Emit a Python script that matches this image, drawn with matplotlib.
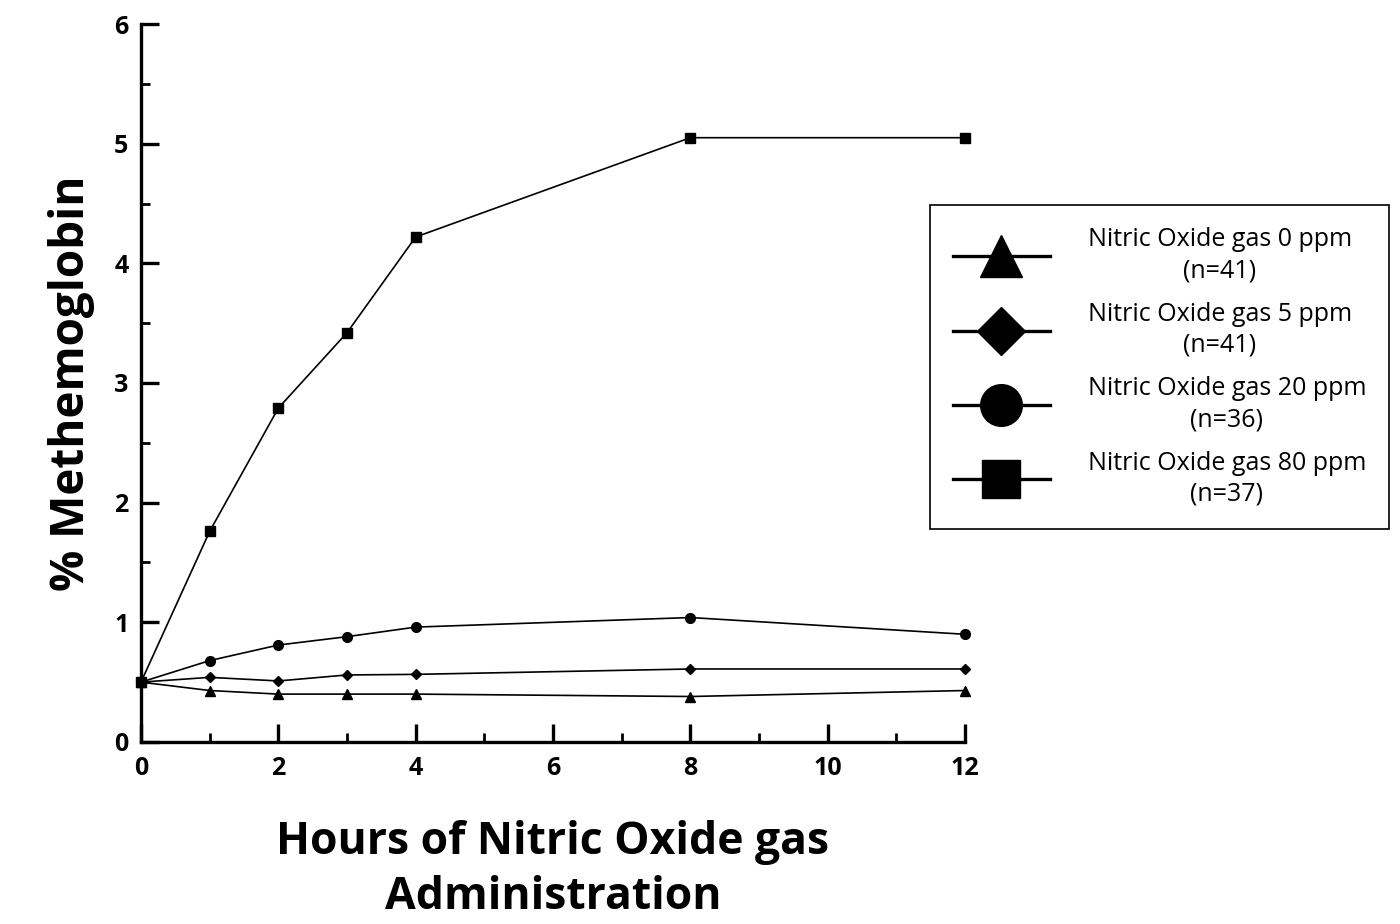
import matplotlib
matplotlib.use('Agg')
import matplotlib.pyplot as plt
from matplotlib.lines import Line2D
from matplotlib.ticker import MultipleLocator

plt.rcParams['font.family'] = ['Open Sans', 'DejaVu Sans']

# Data
hours = [0, 1, 2, 3, 4, 8, 12]
ppm0 = [0.50, 0.43, 0.40, 0.40, 0.40, 0.38, 0.43]
ppm5 = [0.50, 0.54, 0.51, 0.56, 0.565, 0.61, 0.61]
ppm20 = [0.50, 0.68, 0.81, 0.88, 0.96, 1.04, 0.90]
ppm80 = [0.50, 1.76, 2.79, 3.42, 4.22, 5.05, 5.05]

labels = ['Nitric Oxide gas 0 ppm\n(n=41)', 'Nitric Oxide gas 5 ppm\n(n=41)',
          'Nitric Oxide gas 20 ppm\n(n=36)', 'Nitric Oxide gas 80 ppm\n(n=37)']
markers = ['^', 'D', 'o', 's']
plot_sizes = [7, 5.5, 7, 6.5]
legend_sizes = [30, 24, 30, 28]

fig = plt.figure(figsize=(14, 9.24), dpi=100)
ax = fig.add_axes([0.1007, 0.197, 0.5886, 0.777])

for y, m, ms in zip([ppm0, ppm5, ppm20, ppm80], markers, plot_sizes):
    ax.plot(hours, y, color='black', linewidth=1.2, marker=m, markersize=ms,
            clip_on=False)

ax.set_xlim(0, 12)
ax.set_ylim(0, 6)
ax.xaxis.set_major_locator(MultipleLocator(2))
ax.xaxis.set_minor_locator(MultipleLocator(1))
ax.yaxis.set_major_locator(MultipleLocator(1))
ax.yaxis.set_minor_locator(MultipleLocator(0.5))

for side in ['top', 'right']:
    ax.spines[side].set_visible(False)
for side in ['left', 'bottom']:
    ax.spines[side].set_linewidth(2.4)

ax.tick_params(which='major', direction='in', length=13, width=2.4,
               labelsize=18, pad=9)
ax.tick_params(which='minor', direction='in', length=6.5, width=2.0)
ax.tick_params(axis='x', which='major', pad=10)
for lab in ax.get_xticklabels() + ax.get_yticklabels():
    lab.set_fontweight('bold')

ax.set_ylabel('% Methemoglobin', fontsize=33, fontweight='bold', labelpad=14)
ax.set_xlabel('Hours of Nitric Oxide gas\nAdministration', fontsize=32,
              fontweight='bold', labelpad=28, linespacing=1.3)

handles = [Line2D([], [], color='black', linewidth=2.4, marker=m, markersize=s)
           for m, s in zip(markers, legend_sizes)]
leg = fig.legend(handles, labels, loc='upper left',
                 bbox_to_anchor=(930 / 1400, 1 - 205 / 924),
                 fontsize=18, handlelength=3.9, handletextpad=1.5,
                 labelspacing=0.75, borderpad=0.9, borderaxespad=0,
                 fancybox=False, edgecolor='black', framealpha=1)
leg.get_frame().set_linewidth(1.2)
for t in leg.get_texts():
    t.set_multialignment('center')
    t.set_linespacing(1.3)

fig.savefig('out.png', dpi=100)
